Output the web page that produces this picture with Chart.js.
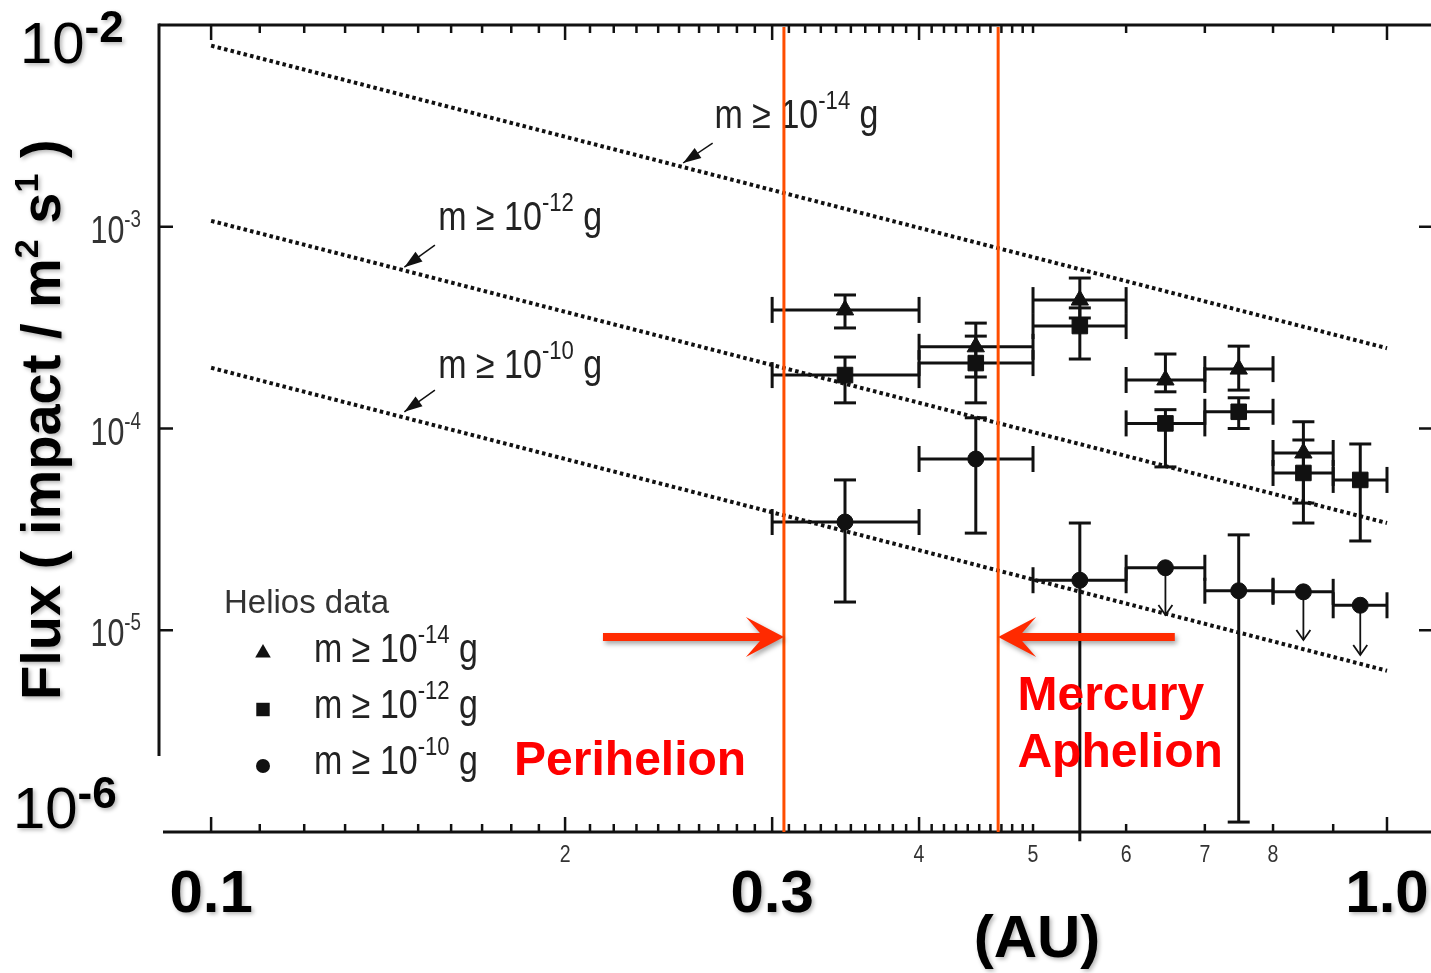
<!DOCTYPE html>
<html lang="en">
<head>
<meta charset="UTF-8">
<title>Dust flux vs heliocentric distance</title>
<script src="https://cdn.jsdelivr.net/npm/chart.js@4"></script>
<style>
  html, body { margin: 0; padding: 0; background: #fff; overflow: hidden; }
  canvas { display: block; }
</style>
</head>
<body>
<canvas id="fluxChart" width="1431" height="973" style="width:1431px;height:973px"></canvas>
<script>
// Helios distance bins (AU)
const binCenter = [0.346, 0.447, 0.548, 0.648, 0.748, 0.849, 0.949];
const binLow    = [0.30, 0.40, 0.50, 0.60, 0.70, 0.80, 0.90];
const binHigh   = [0.40, 0.50, 0.60, 0.70, 0.80, 0.90, 1.00];

// m >= 1e-14 g (triangles)
const flux14   = [3.87e-4, 2.54e-4, 4.33e-4, 1.74e-4, 1.97e-4, 7.56e-5, null];
const flux14Hi = [4.59e-4, 3.33e-4, 5.57e-4, 2.34e-4, 2.56e-4, 8.77e-5, null];
const flux14Lo = [3.15e-4, 1.80e-4, 3.53e-4, 1.52e-4, 1.55e-4, 4.27e-5, null];

// m >= 1e-12 g (squares)
const flux12   = [1.84e-4, 2.11e-4, 3.22e-4, 1.06e-4, 1.21e-4, 6.02e-5, 5.56e-5];
const flux12Hi = [2.26e-4, 2.87e-4, 3.96e-4, 1.24e-4, 1.42e-4, 1.08e-4, 8.38e-5];
const flux12Lo = [1.34e-4, 1.34e-4, 2.21e-4, 6.45e-5, 1.00e-4, 3.40e-5, 2.77e-5];

// m >= 1e-10 g (circles); some bins are upper limits only
const flux10      = [3.44e-5, 7.06e-5, 1.77e-5, 2.04e-5, 1.57e-5, 1.55e-5, 1.33e-5];
const flux10Hi    = [5.56e-5, 1.13e-4, 3.40e-5, null, 2.97e-5, null, null];
const flux10Lo    = [1.38e-5, 3.03e-5, 9.0e-7, null, 1.12e-6, null, null];
const flux10Limit = [null, null, null, 1.19e-5, null, 8.95e-6, 7.54e-6];

// model curves (dotted), value at 0.1 AU and 1.0 AU
const modelR  = [0.1, 1.0];
const model14 = [7.9e-3, 2.5e-4];
const model12 = [1.07e-3, 3.4e-5];
const model10 = [2.0e-4, 6.3e-6];

// Mercury orbit (AU)
const perihelion = 0.307;
const aphelion = 0.467;

// axis ticks / labels
const yDecades = [1e-3, 1e-4, 1e-5];
const yDecadeExp = ['-3', '-4', '-5'];
const xMajorTicks = [0.1, 0.2, 0.3, 0.4, 1.0];
const xMinorLabels = ['2', '4', '5', '6', '7', '8'];
const xMinorLabelVals = [0.2, 0.4, 0.5, 0.6, 0.7, 0.8];
const xBigLabels = ['0.1', '0.3', '1.0'];
const xBigLabelVals = [0.1, 0.3, 1.0];

const FONT = '"Liberation Sans", Arial, sans-serif';
const INK = '#111';

function rich(ctx, x, y, parts, opt) {
    opt = opt || {};
    const sx = opt.sx || 1;
    ctx.save();
    ctx.translate(x, y);
    ctx.scale(sx, 1);
    ctx.textBaseline = 'alphabetic';
    ctx.textAlign = 'left';
    let total = 0;
    parts.forEach(p => { ctx.font = p[1]; total += ctx.measureText(p[0]).width; });
    let cx = 0;
    if (opt.align === 'right') cx = -total;
    if (opt.align === 'center') cx = -total / 2;
    parts.forEach(p => {
        ctx.font = p[1];
        ctx.fillText(p[0], cx, p[2] || 0);
        cx += ctx.measureText(p[0]).width;
    });
    ctx.restore();
}

function massLabel(exp) {
    return [['m \u2265 10', '40px ' + FONT], [exp, '26px ' + FONT, -19], [' g', '40px ' + FONT]];
}

function seg(ctx, x1, y1, x2, y2) {
    ctx.beginPath(); ctx.moveTo(x1, y1); ctx.lineTo(x2, y2); ctx.stroke();
}

function marker(ctx, style, x, y, r) {
    ctx.beginPath();
    if (style === 'triangle') {
        ctx.moveTo(x, y - r);
        ctx.lineTo(x + r * 0.866, y + r * 0.5);
        ctx.lineTo(x - r * 0.866, y + r * 0.5);
        ctx.closePath();
    } else if (style === 'rect') {
        ctx.rect(x - r * 0.707, y - r * 0.707, r * 1.414, r * 1.414);
    } else {
        ctx.arc(x, y, r, 0, Math.PI * 2);
    }
    ctx.fill();
}

const series = [
    { val: flux14, hi: flux14Hi, lo: flux14Lo },
    { val: flux12, hi: flux12Hi, lo: flux12Lo },
    { val: flux10, hi: flux10Hi, lo: flux10Lo, lim: flux10Limit }
];

// error bars and upper limit arrows
const errorBars = {
    id: 'errorBars',
    beforeDatasetsDraw(chart) {
        const { ctx, scales: { x, y } } = chart;
        ctx.save();
        ctx.strokeStyle = INK;
        ctx.fillStyle = INK;
        series.forEach(s => {
            binCenter.forEach((c, i) => {
                const v = s.val[i];
                if (v == null) return;
                const px = x.getPixelForValue(c);
                const py = y.getPixelForValue(v);
                const xl = x.getPixelForValue(binLow[i]);
                const xr = x.getPixelForValue(binHigh[i]);
                ctx.lineWidth = 3;
                seg(ctx, xl, py, xr, py);
                seg(ctx, xl, py - 13, xl, py + 13);
                seg(ctx, xr, py - 13, xr, py + 13);
                if (s.hi[i] != null) {
                    const yt = y.getPixelForValue(s.hi[i]);
                    const yb = y.getPixelForValue(s.lo[i]);
                    seg(ctx, px, yt, px, yb);
                    seg(ctx, px - 11, yt, px + 11, yt);
                    if (s.lo[i] >= y.min) seg(ctx, px - 11, yb, px + 11, yb);
                }
                if (s.lim && s.lim[i] != null) {
                    const ya = y.getPixelForValue(s.lim[i]);
                    ctx.lineWidth = 1.8;
                    seg(ctx, px, py, px, ya);
                    ctx.beginPath();
                    ctx.moveTo(px - 7, ya - 10);
                    ctx.lineTo(px, ya);
                    ctx.lineTo(px + 7, ya - 10);
                    ctx.stroke();
                }
            });
        });
        ctx.restore();
    }
};

// frame, ticks, labels and annotations
const decorations = {
    id: 'decorations',
    afterDraw(chart) {
        const { ctx, chartArea: a, scales: { x, y } } = chart;
        ctx.save();
        ctx.strokeStyle = INK;
        ctx.lineWidth = 3;
        // frame
        seg(ctx, a.left, a.top, a.right, a.top);
        seg(ctx, a.left, a.top - 1.5, a.left, a.top + 731);
        seg(ctx, a.left + 4, a.bottom, a.right, a.bottom);
        // x ticks: every 0.01 up to 0.5, every 0.1 after
        const xt = [];
        for (let k = 10; k <= 50; k++) xt.push(k / 100);
        for (let k = 6; k <= 10; k++) xt.push(k / 10);
        ctx.lineWidth = 2.5;
        xt.forEach(v => {
            const px = x.getPixelForValue(v);
            const len = xMajorTicks.some(m => Math.abs(m - v) < 1e-6) ? 15 : 8;
            seg(ctx, px, a.top, px, a.top + len);
            seg(ctx, px, a.bottom, px, a.bottom - len);
        });
        // y ticks left and right
        yDecades.forEach(v => {
            const py = y.getPixelForValue(v);
            seg(ctx, a.left, py, a.left + 14, py);
            seg(ctx, a.right, py, a.right - 12, py);
        });

        // small original tick labels
        ctx.fillStyle = '#333';
        yDecades.forEach((v, i) => {
            const py = y.getPixelForValue(v);
            rich(ctx, 141, py + 16, [['10', '39px ' + FONT], [yDecadeExp[i], '24px ' + FONT, -16]], { sx: 0.78, align: 'right' });
        });
        xMinorLabels.forEach((t, i) => {
            const px = x.getPixelForValue(xMinorLabelVals[i]);
            rich(ctx, px, a.bottom + 30, [[t, '23px ' + FONT]], { sx: 0.85, align: 'center' });
        });

        // model line labels with small arrows
        const lineLabels = [
            { exp: '-14', tx: 0.268, ty: 3.09e-3, ax: [0.267, 2.6e-3], tip: [0.252, 2.07e-3] },
            { exp: '-12', tx: 0.156, ty: 9.6e-4, ax: [0.155, 8.1e-4], tip: [0.146, 6.3e-4] },
            { exp: '-10', tx: 0.156, ty: 1.78e-4, ax: [0.155, 1.55e-4], tip: [0.146, 1.21e-4] }
        ];
        lineLabels.forEach(l => {
            ctx.fillStyle = '#222';
            rich(ctx, x.getPixelForValue(l.tx), y.getPixelForValue(l.ty), massLabel(l.exp), { sx: 0.85 });
            const x1 = x.getPixelForValue(l.ax[0]), y1 = y.getPixelForValue(l.ax[1]);
            const x2 = x.getPixelForValue(l.tip[0]), y2 = y.getPixelForValue(l.tip[1]);
            ctx.strokeStyle = INK;
            ctx.lineWidth = 1.5;
            seg(ctx, x1, y1, x2, y2);
            const ang = Math.atan2(y2 - y1, x2 - x1);
            ctx.fillStyle = INK;
            ctx.beginPath();
            ctx.moveTo(x2, y2);
            ctx.lineTo(x2 - 18 * Math.cos(ang) + 6 * Math.sin(ang), y2 - 18 * Math.sin(ang) - 6 * Math.cos(ang));
            ctx.lineTo(x2 - 18 * Math.cos(ang) - 6 * Math.sin(ang), y2 - 18 * Math.sin(ang) + 6 * Math.cos(ang));
            ctx.closePath();
            ctx.fill();
        });

        // legend
        const lx = a.left, ly = a.top;
        ctx.fillStyle = '#333';
        rich(ctx, lx + 65, ly + 588, [['Helios data', '34px ' + FONT]], { sx: 0.97 });
        const leg = [['triangle', '-14', 9], ['rect', '-12', 9.5], ['circle', '-10', 7]];
        leg.forEach((it, i) => {
            ctx.fillStyle = INK;
            marker(ctx, it[0], lx + 104, ly + 628 + i * 56.5, it[2]);
            ctx.fillStyle = '#222';
            rich(ctx, lx + 155, ly + 637 + i * 56, massLabel(it[1]), { sx: 0.85 });
        });

        // Mercury orbit lines
        ctx.strokeStyle = '#ff4d00';
        ctx.lineWidth = 3;
        [perihelion, aphelion].forEach(v => {
            const px = x.getPixelForValue(v);
            seg(ctx, px, a.top + 2, px, a.bottom);
        });

        // red arrows
        const arrowY = y.getPixelForValue(9.27e-6);
        const redArrow = (tail, tip) => {
            const xt0 = x.getPixelForValue(tail), xt1 = x.getPixelForValue(tip);
            const d = xt1 > xt0 ? 1 : -1;
            ctx.save();
            ctx.shadowColor = 'rgba(0,0,0,0.35)';
            ctx.shadowBlur = 5;
            ctx.shadowOffsetX = 2;
            ctx.shadowOffsetY = 3;
            ctx.fillStyle = '#ff2a00';
            ctx.beginPath();
            ctx.moveTo(xt0, arrowY - 4);
            ctx.lineTo(xt1 - d * 24, arrowY - 4);
            ctx.lineTo(xt1 - d * 38, arrowY - 20);
            ctx.lineTo(xt1, arrowY);
            ctx.lineTo(xt1 - d * 38, arrowY + 20);
            ctx.lineTo(xt1 - d * 24, arrowY + 4);
            ctx.lineTo(xt0, arrowY + 4);
            ctx.closePath();
            ctx.fill();
            ctx.restore();
        };
        redArrow(0.2154, perihelion);
        redArrow(0.660, aphelion);

        // red text
        ctx.fillStyle = '#ff0000';
        rich(ctx, x.getPixelForValue(0.181), y.getPixelForValue(1.92e-6), [['Perihelion', 'bold 48px ' + FONT]]);
        rich(ctx, x.getPixelForValue(0.485), y.getPixelForValue(4.03e-6), [['Mercury', 'bold 48px ' + FONT]]);
        rich(ctx, x.getPixelForValue(0.485), y.getPixelForValue(2.1e-6), [['Aphelion', 'bold 48px ' + FONT]]);

        // big overlay labels
        ctx.save();
        ctx.shadowColor = 'rgba(0,0,0,0.3)';
        ctx.shadowBlur = 4;
        ctx.shadowOffsetX = 2;
        ctx.shadowOffsetY = 2;
        ctx.fillStyle = '#000';
        const yTop = y.getPixelForValue(1e-2), yBot = y.getPixelForValue(1e-6);
        rich(ctx, 20, yTop + 38, [['10', '58px ' + FONT], ['-2', 'bold 44px ' + FONT, -21]]);
        rich(ctx, 13, yBot - 4, [['10', '58px ' + FONT], ['-6', 'bold 44px ' + FONT, -20]]);
        xBigLabels.forEach((t, i) => {
            rich(ctx, x.getPixelForValue(xBigLabelVals[i]), a.bottom + 80, [[t, 'bold 60px ' + FONT]], { align: 'center' });
        });
        rich(ctx, 1037, a.bottom + 125, [['(AU)', 'bold 60px ' + FONT]], { align: 'center' });
        // y title
        ctx.translate(60, 700);
        ctx.rotate(-Math.PI / 2);
        rich(ctx, 0, 0, [
            ['Flux ( impact / m', 'bold 56px ' + FONT],
            ['2', 'bold 34px ' + FONT, -22],
            [' s', 'bold 56px ' + FONT],
            ['1', 'bold 34px ' + FONT, -22],
            [' )', 'bold 56px ' + FONT]
        ]);
        ctx.restore();

        ctx.restore();
    }
};

const pts = vals => binCenter.map((c, i) => ({ x: c, y: vals[i] }));
const modelPts = vals => modelR.map((r, i) => ({ x: r, y: vals[i] }));
const dotted = vals => ({
    data: modelPts(vals),
    showLine: true,
    borderColor: INK,
    borderWidth: 4,
    borderDash: [3.5, 3.2],
    pointRadius: 0,
    order: 2
});

new Chart(document.getElementById('fluxChart'), {
    type: 'scatter',
    data: {
        datasets: [
            { data: pts(flux14), pointStyle: 'triangle', pointRadius: 10, backgroundColor: INK, borderColor: INK, borderWidth: 1, order: 1 },
            { data: pts(flux12), pointStyle: 'rect', pointRadius: 11, backgroundColor: INK, borderColor: INK, borderWidth: 1, order: 1 },
            { data: pts(flux10), pointStyle: 'circle', pointRadius: 8, backgroundColor: INK, borderColor: INK, borderWidth: 1, order: 1 },
            dotted(model14),
            dotted(model12),
            dotted(model10)
        ]
    },
    options: {
        responsive: false,
        animation: false,
        events: [],
        layout: { autoPadding: false, padding: { left: 159, top: 25, right: 0, bottom: 141 } },
        plugins: { legend: { display: false }, tooltip: { enabled: false } },
        scales: {
            x: { type: 'logarithmic', min: 0.0903, max: 1.09, display: false },
            y: { type: 'logarithmic', min: 1e-6, max: 1e-2, display: false }
        }
    },
    plugins: [errorBars, decorations]
});
</script>
</body>
</html>
